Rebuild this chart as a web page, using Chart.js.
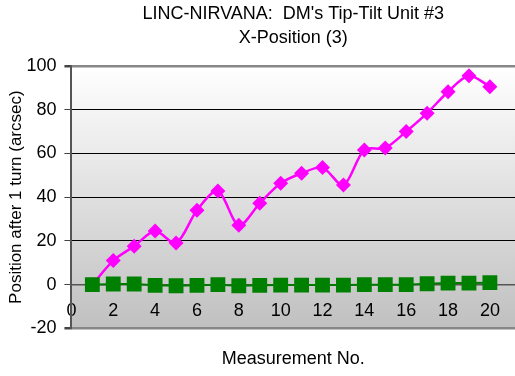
<!DOCTYPE html>
<html>
<head>
<meta charset="utf-8">
<script src="https://cdn.jsdelivr.net/npm/chart.js@4"></script>
<style>
  html, body { margin: 0; padding: 0; background: #fff; }
  #wrap { width: 515px; height: 376px; }
</style>
</head>
<body>
<div id="wrap"><canvas id="chart"></canvas></div>
<script>
const measurements = [1, 2, 3, 4, 5, 6, 7, 8, 9, 10, 11, 12, 13, 14, 15, 16, 17, 18, 19, 20];
const xPosition = [0, 11, 17.6, 24.5, 19, 34, 42.8, 27.1, 37.2, 46.3, 50.9, 53.5, 45.5, 61.6, 62.5, 70, 78.4, 88.2, 95.5, 90.5];
const yPosition = [0, 0.3, 0.3, -0.3, -0.5, -0.3, 0, -0.5, -0.3, -0.2, -0.2, -0.2, -0.2, 0, 0, 0, 0.4, 0.7, 0.7, 0.9];
const xTicks = [0, 2, 4, 6, 8, 10, 12, 14, 16, 18, 20];
const yTicks = [-20, 0, 20, 40, 60, 80, 100];

const FONT = "'Liberation Sans', Arial, sans-serif";

const toPoints = (vals) => vals.map((v, i) => ({ x: measurements[i], y: v }));

// gray-to-white plot area like the Excel original
const plotBackground = {
  id: "plotBackground",
  beforeDraw(chart) {
    const { ctx, chartArea: a } = chart;
    const g = ctx.createLinearGradient(0, a.top, 0, a.bottom);
    g.addColorStop(0, "#ffffff");
    g.addColorStop(1, "#c0c0c0");
    ctx.save();
    ctx.fillStyle = g;
    ctx.fillRect(a.left, a.top, a.right - a.left, a.bottom - a.top);
    ctx.restore();
  },
};

const ctx = document.getElementById("chart").getContext("2d");
new Chart(ctx, {
  type: "line",
  data: {
    datasets: [
      {
        label: "Y",
        data: toPoints(yPosition),
        order: 0,
        borderColor: "#007a00",
        backgroundColor: "#008000",
        borderWidth: 2,
        pointStyle: "rect",
        pointRadius: 10.5,
        pointBorderWidth: 0,
        tension: 0,
      },
      {
        label: "X",
        data: toPoints(xPosition),
        order: 1,
        borderColor: "#ff00ff",
        backgroundColor: "#ff00ff",
        borderWidth: 2.5,
        pointStyle: "rectRot",
        pointRadius: 7.5,
        pointBorderWidth: 0,
        tension: 0.3,
      },
    ],
  },
  options: {
    responsive: true,
    maintainAspectRatio: false,
    animation: false,
    // no extra room for the big markers, the plot runs to the right edge
    layout: { padding: 0, autoPadding: false },
    plugins: {
      legend: { display: false },
      tooltip: { enabled: false },
      title: {
        display: true,
        fullSize: false,
        text: ["LINC-NIRVANA:  DM's Tip-Tilt Unit #3", "X-Position (3)"],
        color: "#000",
        font: { family: FONT, size: 18, weight: "normal", lineHeight: 1.33 },
        padding: { top: 2, bottom: 16 },
      },
      subtitle: {
        display: true,
        position: "bottom",
        fullSize: false,
        text: "Measurement No.",
        color: "#000",
        font: { family: FONT, size: 18, weight: "normal" },
        padding: { top: 20, bottom: 6 },
      },
    },
    scales: {
      x: {
        type: "linear",
        position: { y: 0 },
        min: 0,
        max: 21.2,
        afterBuildTicks: (axis) => {
          axis.ticks = xTicks.map((v) => ({ value: v }));
        },
        afterFit: (axis) => {
          axis.paddingLeft = 0;
          axis.paddingRight = 0;
        },
        // marks hidden, tickLength only spaces the labels below the zero line
        grid: { display: false, tickLength: 16 },
        border: { display: true, color: "#555", width: 1.5 },
        ticks: {
          color: "#000",
          font: { family: FONT, size: 18 },
          padding: 0,
          maxRotation: 0,
        },
      },
      y: {
        min: -20,
        max: 100,
        afterBuildTicks: (axis) => {
          axis.ticks = yTicks.map((v) => ({ value: v }));
        },
        border: { display: true, color: "#555", width: 2 },
        grid: {
          color: (c) =>
            c.tick && (c.tick.value === 100 || c.tick.value === -20) ? "#888" : "#000",
          lineWidth: (c) =>
            c.tick && (c.tick.value === 100 || c.tick.value === -20) ? 2.5 : 1,
          tickColor: "#444",
          tickLength: 7,
        },
        ticks: {
          color: "#000",
          font: { family: FONT, size: 18 },
          padding: 8,
        },
        title: {
          display: true,
          text: "Position after 1 turn (arcsec)",
          color: "#000",
          font: { family: FONT, size: 17 },
          padding: { top: 6, bottom: -8 },
        },
      },
    },
  },
  plugins: [plotBackground],
});
</script>
</body>
</html>
